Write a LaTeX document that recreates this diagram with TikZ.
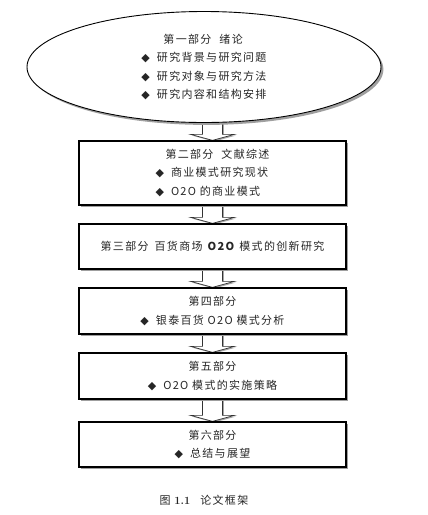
\documentclass[tikz,border=0pt]{standalone}
\usepackage{fontspec}
\newfontfamily\cjk{Noto Sans CJK SC}[LetterSpace=12]
\newfontfamily\symf{DejaVu Sans}
\usetikzlibrary{shapes.geometric,shadows,calc,backgrounds}
\newcommand{\dia}{{\symf ◆}\hspace{7pt}}
\newcommand{\partsize}{\fontsize{11}{18.5}\selectfont}
\tikzset{
  x=1pt, y=1pt,
  boxshadow/.style = {drop shadow={shadow xshift=2.4pt, shadow yshift=-2.4pt, fill=gray!75, opacity=1}},
  partbox/.style   = {draw, line width=1.3pt, fill=white, boxshadow, minimum width=267pt,
                      inner sep=0pt, align=center, font=\cjk\partsize, text=black!85},
  partoval/.style  = {ellipse, draw, line width=0.9pt, fill=white, boxshadow, minimum width=354pt,
                      minimum height=111pt, inner sep=0pt, align=left, font=\cjk\partsize, text=black!85},
  blkarr/.style    = {draw=black!80, line width=0.7pt, fill=white,
                      drop shadow={shadow xshift=1.4pt, shadow yshift=-1.2pt, fill=gray!70, opacity=1}}
}

\begin{document}
\begin{tikzpicture}
  \useasboundingbox (0,0) rectangle (428,-515);
  % parts of the thesis
  \node[partoval] (p1) at (204,-67)
       {\hspace{22pt}第一部分\hspace{8pt}绪论\\ \dia 研究背景与研究问题\\ \dia 研究对象与研究方法\\ \dia 研究内容和结构安排};
  \node[partbox, minimum height=64pt, align=left] (p2) at (212.5,-173)
       {\hspace{10pt}第二部分\hspace{8pt}文献综述\\ \dia 商业模式研究现状\\ \dia O2O 的商业模式};
  \node[partbox, minimum height=45pt] (p3) at (212.5,-246.5)
       {第三部分\hspace{6pt}百货商场 \textbf{O2O} 模式的创新研究};
  \node[partbox, minimum height=46pt] (p4) at (212.5,-311)
       {第四部分\\ \dia 银泰百货 O2O 模式分析};
  \node[partbox, minimum height=46pt] (p5) at (212.5,-376)
       {第五部分\\ \dia O2O 模式的实施策略};
  \node[partbox, minimum height=45pt] (p6) at (212.5,-444.5)
       {第六部分\\ \dia 总结与展望};
  \node[font=\cjk\partsize, text=black!85] (cap) at (204,-500)
       {图 {\rmfamily\bfseries 1.1}\hspace{10pt}论文框架};
  % hollow arrows between the parts
  \begin{pgfonlayer}{background}
    \fill[white] (0,0) rectangle (428,-515);
    \foreach \a/\b in {p1/p2,p2/p3,p3/p4,p4/p5,p5/p6}
      \draw[blkarr] ($(\b.north |- \a.south)+(-10,3)$) -- ($(\b.north)+(-10,6)$)
            -- ($(\b.north)+(-22,6)$) -- (\b.north) -- ($(\b.north)+(22,6)$)
            -- ($(\b.north)+(10,6)$) -- ($(\b.north |- \a.south)+(10,3)$) -- cycle;
  \end{pgfonlayer}
\end{tikzpicture}
\end{document}
